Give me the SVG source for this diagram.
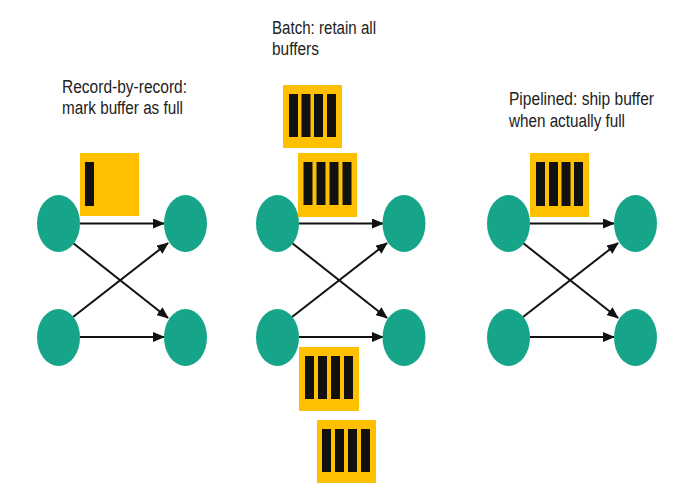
<svg xmlns="http://www.w3.org/2000/svg" width="682" height="501" viewBox="0 0 682 501">
<style>
.node{fill:#17A589}
.buf{fill:#FFC000}
.bar{fill:#111111}
.lbl{font-family:"Liberation Sans",Arial,sans-serif;font-size:18px;fill:#222222}
.edge{stroke:#111111;stroke-width:2;fill:none;marker-end:url(#arr)}
</style>
<defs>
<marker id="arr" markerUnits="userSpaceOnUse" markerWidth="12" markerHeight="10" refX="11" refY="5" orient="auto">
<path d="M0,0 L12,5 L0,10 Z" fill="#111111"/>
</marker>
</defs>
<rect width="682" height="501" fill="#ffffff"/>

<g id="labels">
<text class="lbl" x="62" y="93" textLength="125" lengthAdjust="spacingAndGlyphs">Record-by-record:</text>
<text class="lbl" x="62" y="114" textLength="121" lengthAdjust="spacingAndGlyphs">mark buffer as full</text>
<text class="lbl" x="272" y="34" textLength="104" lengthAdjust="spacingAndGlyphs">Batch: retain all</text>
<text class="lbl" x="272" y="55" textLength="47" lengthAdjust="spacingAndGlyphs">buffers</text>
<text class="lbl" x="509" y="105" textLength="145" lengthAdjust="spacingAndGlyphs">Pipelined: ship buffer</text>
<text class="lbl" x="509" y="127" textLength="116" lengthAdjust="spacingAndGlyphs">when actually full</text>
</g>

<g id="connectors">
<line class="edge" x1="80" y1="223.5" x2="164" y2="223.5"/>
<line class="edge" x1="73" y1="243" x2="168" y2="318"/>
<line class="edge" x1="73" y1="317" x2="168" y2="243"/>
<line class="edge" x1="80" y1="337" x2="164" y2="337"/>

<line class="edge" x1="299" y1="223.5" x2="383" y2="223.5"/>
<line class="edge" x1="292" y1="243" x2="387" y2="318"/>
<line class="edge" x1="292" y1="317" x2="387" y2="243"/>
<line class="edge" x1="299" y1="337" x2="383" y2="337"/>

<line class="edge" x1="530" y1="223.5" x2="614" y2="223.5"/>
<line class="edge" x1="523" y1="243" x2="618" y2="318"/>
<line class="edge" x1="523" y1="317" x2="618" y2="243"/>
<line class="edge" x1="530" y1="337" x2="614" y2="337"/>
</g>

<g id="p1-a"><ellipse class="node" cx="58.5" cy="223.5" rx="21.5" ry="28.5"/></g>
<g id="p1-b"><ellipse class="node" cx="185.5" cy="223.5" rx="21.5" ry="28.5"/></g>
<g id="p1-c"><ellipse class="node" cx="58.5" cy="337.5" rx="21.5" ry="28.5"/></g>
<g id="p1-d"><ellipse class="node" cx="185.5" cy="337.5" rx="21.5" ry="28.5"/></g>

<g id="p2-a"><ellipse class="node" cx="277.5" cy="223.5" rx="21.5" ry="28.5"/></g>
<g id="p2-b"><ellipse class="node" cx="404" cy="223.5" rx="21.5" ry="28.5"/></g>
<g id="p2-c"><ellipse class="node" cx="277.5" cy="337.5" rx="21.5" ry="28.5"/></g>
<g id="p2-d"><ellipse class="node" cx="404" cy="337.5" rx="21.5" ry="28.5"/></g>

<g id="p3-a"><ellipse class="node" cx="508.5" cy="223.5" rx="21.5" ry="28.5"/></g>
<g id="p3-b"><ellipse class="node" cx="635.5" cy="223.5" rx="21.5" ry="28.5"/></g>
<g id="p3-c"><ellipse class="node" cx="508.5" cy="337.5" rx="21.5" ry="28.5"/></g>
<g id="p3-d"><ellipse class="node" cx="635.5" cy="337.5" rx="21.5" ry="28.5"/></g>

<g id="buf-p1">
<rect class="buf" x="80" y="153" width="59" height="63"/>
<rect class="bar" x="85" y="162" width="9" height="44"/>
</g>

<g id="buf-p2-1">
<rect class="buf" x="283" y="85" width="59" height="63"/>
<rect class="bar" x="289" y="94" width="9" height="43"/>
<rect class="bar" x="301.5" y="94" width="9" height="43"/>
<rect class="bar" x="314" y="94" width="9" height="43"/>
<rect class="bar" x="327" y="94" width="9" height="43"/>
</g>
<g id="buf-p2-2">
<rect class="buf" x="298" y="153" width="59" height="64"/>
<rect class="bar" x="303.5" y="162" width="9" height="43"/>
<rect class="bar" x="316.5" y="162" width="9" height="43"/>
<rect class="bar" x="329.5" y="162" width="9" height="43"/>
<rect class="bar" x="342.5" y="162" width="9" height="43"/>
</g>
<g id="buf-p2-3">
<rect class="buf" x="299" y="347" width="60" height="64"/>
<rect class="bar" x="305" y="356" width="9" height="43"/>
<rect class="bar" x="318" y="356" width="9" height="43"/>
<rect class="bar" x="331" y="356" width="9" height="43"/>
<rect class="bar" x="344" y="356" width="9" height="43"/>
</g>
<g id="buf-p2-4">
<rect class="buf" x="317" y="420" width="59" height="63"/>
<rect class="bar" x="322" y="429" width="9" height="43"/>
<rect class="bar" x="335" y="429" width="9" height="43"/>
<rect class="bar" x="348" y="429" width="9" height="43"/>
<rect class="bar" x="361" y="429" width="9" height="43"/>
</g>

<g id="buf-p3">
<rect class="buf" x="530" y="153" width="59" height="64"/>
<rect class="bar" x="536" y="162" width="9" height="44"/>
<rect class="bar" x="549" y="162" width="9" height="44"/>
<rect class="bar" x="561.5" y="162" width="9" height="44"/>
<rect class="bar" x="574" y="162" width="9" height="44"/>
</g>
</svg>
